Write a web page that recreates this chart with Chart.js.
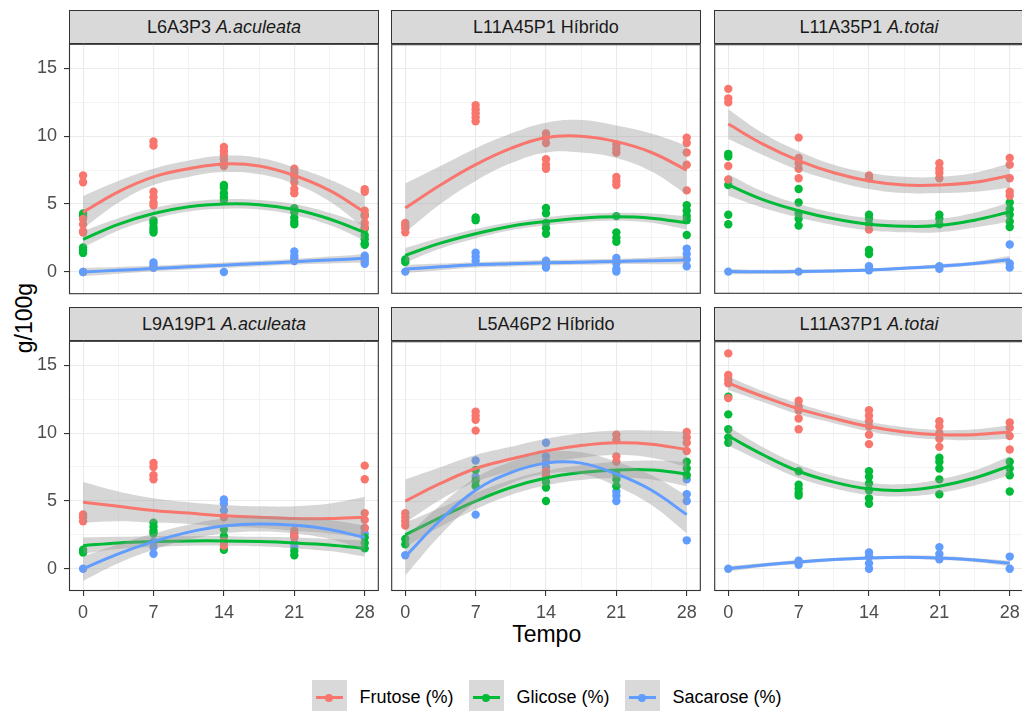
<!DOCTYPE html>
<html>
<head>
<meta charset="utf-8">
<script src="https://cdn.jsdelivr.net/npm/chart.js@4/dist/chart.umd.min.js"></script>
<style>
  body { margin: 0; width: 1022px; height: 711px; overflow: hidden; background: #fff;
         position: relative; font-family: "Liberation Sans", Arial, sans-serif; }
  canvas { position: absolute; }
  .strip { position: absolute; background: #D9D9D9; border: 1px solid #333; box-sizing: border-box;
           text-align: center; font-size: 18px; color: #1A1A1A; line-height: 32px; white-space: nowrap; }
  .title { position: absolute; font-size: 23px; color: #000; text-align: center; white-space: nowrap; }
  #legend { position: absolute; top: 680px; left: 546.5px; transform: translateX(-50%);
            display: flex; align-items: center; font-size: 18px; color: #000; white-space: nowrap; }
  .key { width: 35px; height: 35px; background: #D9D9D9; position: relative; }
  .key .ln { position: absolute; left: 4px; right: 4px; top: 16px; height: 3px; }
  .key .dot { position: absolute; left: 13.5px; top: 13.5px; width: 8px; height: 8px; border-radius: 50%; }
  .lab { margin: 0 15px 0 13px; }
  .lab:last-child { margin-right: 0; }
</style>
</head>
<body>
<div class="title" style="left:446.7px;top:620px;width:200px;line-height:28px;">Tempo</div>
<div class="title" style="left:-76px;top:303.5px;width:200px;line-height:28px;transform:rotate(-90deg);">g/100g</div>
<div id="legend"></div>

<script>
// tempo (dias) das amostras e dos pontos da curva ajustada
const days = [0, 7, 14, 21, 28];
const fitDays = [0, 3.5, 7, 10.5, 14, 17.5, 21, 24.5, 28];

const panelIds = ["L6A3P3", "L11A45P1", "L11A35P1", "L9A19P1", "L5A46P2", "L11A37P1"];
const panelGroups = ["A.aculeata", "Híbrido", "A.totai", "A.aculeata", "Híbrido", "A.totai"];
const sugarNames = ["Frutose (%)", "Glicose (%)", "Sacarose (%)"];
const sugarColors = ["#F8766D", "#00BA38", "#619CFF"];

const xTicks = [0, 7, 14, 21, 28];
const xMinor = [3.5, 10.5, 17.5, 24.5];
const yTicks = [0, 5, 10, 15];
const yMinor = [2.5, 7.5, 12.5];

// replicates per panel, per day
const frutosePts = [
  [[7.1, 6.6, 3.9, 3.5, 3.0, 2.9], [9.6, 9.3, 5.9, 5.5, 5.1, 4.9], [9.2, 8.9, 8.6, 8.3, 8.0, 7.8], [7.6, 7.3, 7.0, 6.6, 6.1, 5.8], [6.1, 5.9, 4.5, 4.1, 3.6, 3.3]],
  [[3.6, 3.4, 3.2, 2.9], [12.3, 12.0, 11.7, 11.4, 11.1], [10.2, 9.9, 9.5, 8.3, 7.9, 7.6], [9.4, 9.1, 8.8, 7.0, 6.7, 6.4], [9.9, 9.5, 8.8, 7.9, 6.0]],
  [[13.5, 12.8, 12.5, 7.8, 6.8], [9.9, 8.4, 8.0, 7.6, 6.9], [7.1, 6.9, 3.1], [8.0, 7.6, 7.3, 6.9], [8.4, 7.9, 6.9, 5.9, 5.6]],
  [[4.0, 3.8, 3.5], [7.8, 7.5, 6.9, 6.6], [3.8, 2.0, 1.7], [2.8, 2.6, 2.3], [7.6, 6.6, 4.1, 3.6, 3.0]],
  [[4.1, 3.8, 3.5, 3.2], [11.6, 11.3, 11.0, 10.2], [7.2, 6.9], [9.9, 9.5, 8.3, 7.9], [10.1, 9.7, 9.3, 8.7]],
  [[15.9, 14.3, 14.0, 13.7, 12.6], [12.4, 12.0, 11.7, 11.1, 10.3], [11.7, 11.3, 10.9, 10.5, 9.9, 9.2], [10.9, 10.5, 10.0, 9.6, 9.0], [10.8, 10.4, 9.8, 8.8]]
];
const glicosePts = [
  [[4.3, 4.1, 1.8, 1.6, 1.4], [3.8, 3.6, 3.3, 3.1, 2.9], [6.4, 6.2, 5.8, 5.5, 5.3], [4.7, 4.4, 4.0, 3.7, 3.5], [4.2, 3.2, 2.7, 2.4, 2.1, 2.0]],
  [[0.9, 0.7], [4.0, 3.8], [4.7, 4.3, 3.6, 3.2, 2.8], [4.1, 2.9, 2.5, 2.2], [4.9, 4.5, 4.1, 3.8, 2.7]],
  [[8.7, 8.5, 6.4, 4.2, 3.5], [6.1, 5.1, 4.3, 3.9, 3.4], [4.2, 3.9, 3.5, 1.6, 1.3], [4.2, 3.9, 3.5], [5.1, 4.6, 4.2, 3.7, 3.3]],
  [[1.4, 1.2], [3.4, 3.1, 2.8, 2.6], [2.9, 2.4, 2.0, 1.4], [1.3, 1.0], [2.3, 1.9, 1.5]],
  [[2.2, 1.8], [7.3, 6.5, 6.1], [6.4, 6.0, 5.0], [7.0, 6.6, 6.1], [7.9, 7.4, 6.9]],
  [[12.7, 11.4, 10.3, 9.7, 9.3], [7.2, 6.2, 5.9, 5.6, 5.4], [7.2, 6.8, 6.3, 5.8, 5.2, 4.8], [8.2, 7.9, 7.4, 6.6, 5.5], [7.9, 7.4, 6.9, 5.7]]
];
const sacarosePts = [
  [[0.0, 0.0], [0.7, 0.5, 0.3], [0.0], [1.5, 1.2, 1.0, 0.8], [1.2, 1.0, 0.8, 0.6]],
  [[0.0], [1.4, 1.1, 0.8], [0.8, 0.5, 0.3], [1.0, 0.6, 0.2, 0.0], [1.7, 1.3, 0.9, 0.4]],
  [[0.0], [0.0], [0.4, 0.1], [0.4, 0.2], [2.0, 0.6, 0.3]],
  [[0.0], [2.0, 1.6, 1.1], [5.1, 4.8, 4.3], [2.4, 1.9, 1.6], [3.0, 2.6]],
  [[1.0], [8.0, 6.8, 4.0], [9.3, 8.3, 7.9, 7.5], [5.7, 5.4, 5.0], [6.6, 5.5, 5.0, 2.1]],
  [[0.0], [0.6, 0.3], [1.2, 0.9, 0.4, 0.0], [1.6, 1.1, 0.7], [0.9, 0.0]]
];

// smooth fit (read at fitDays) and half width of the grey band
const frutoseFit = [
  [4.4, 5.9, 7.0, 7.6, 7.95, 7.8, 7.1, 6.0, 4.4],
  [4.7, 6.4, 7.9, 9.1, 9.9, 10.0, 9.6, 8.8, 7.5],
  [10.9, 9.4, 8.2, 7.3, 6.7, 6.4, 6.4, 6.6, 7.1],
  [4.9, 4.6, 4.3, 4.1, 3.9, 3.8, 3.7, 3.7, 3.8],
  [5.0, 6.3, 7.4, 8.1, 8.7, 9.1, 9.3, 9.2, 8.8],
  [13.7, 12.7, 11.8, 11.1, 10.5, 10.1, 9.9, 9.9, 10.1]
];
const frutoseSe = [
  [1.2, 0.8, 0.6, 0.6, 0.6, 0.6, 0.6, 0.8, 1.2],
  [1.8, 1.4, 1.2, 1.1, 1.1, 1.2, 1.2, 1.4, 1.8],
  [1.1, 0.8, 0.7, 0.6, 0.6, 0.6, 0.6, 0.7, 0.9],
  [1.5, 1.1, 0.9, 0.8, 0.8, 0.8, 0.9, 1.1, 1.5],
  [1.6, 1.2, 1.0, 0.9, 0.9, 0.9, 0.9, 1.0, 1.3],
  [0.5, 0.4, 0.4, 0.35, 0.35, 0.35, 0.35, 0.4, 0.5]
];
const glicoseFit = [
  [2.4, 3.5, 4.3, 4.8, 5.0, 4.95, 4.6, 3.9, 2.9],
  [1.2, 2.1, 2.8, 3.35, 3.7, 3.95, 4.05, 3.95, 3.6],
  [6.4, 5.3, 4.5, 3.9, 3.5, 3.35, 3.4, 3.8, 4.4],
  [1.7, 1.9, 2.0, 2.05, 2.05, 2.0, 1.9, 1.75, 1.5],
  [2.5, 3.8, 5.0, 6.0, 6.7, 7.1, 7.3, 7.3, 7.0],
  [9.8, 8.4, 7.2, 6.4, 5.9, 5.8, 6.1, 6.7, 7.6]
];
const glicoseSe = [
  [0.6, 0.45, 0.4, 0.35, 0.35, 0.35, 0.4, 0.45, 0.6],
  [0.55, 0.4, 0.35, 0.3, 0.3, 0.3, 0.3, 0.35, 0.5],
  [0.8, 0.6, 0.5, 0.45, 0.45, 0.45, 0.5, 0.55, 0.7],
  [0.6, 0.45, 0.4, 0.35, 0.35, 0.35, 0.4, 0.45, 0.6],
  [0.9, 0.7, 0.6, 0.55, 0.55, 0.55, 0.6, 0.7, 0.9],
  [0.7, 0.55, 0.5, 0.45, 0.45, 0.45, 0.5, 0.55, 0.7]
];
const sacaroseFit = [
  [0.0, 0.12, 0.25, 0.38, 0.5, 0.62, 0.75, 0.88, 1.0],
  [0.2, 0.35, 0.5, 0.58, 0.65, 0.7, 0.75, 0.8, 0.85],
  [0.0, -0.02, 0.0, 0.05, 0.12, 0.25, 0.4, 0.6, 0.9],
  [0.0, 1.1, 2.0, 2.7, 3.15, 3.3, 3.2, 2.9, 2.3],
  [0.9, 3.6, 5.8, 7.1, 7.8, 7.8, 7.0, 5.8, 4.0],
  [0.0, 0.28, 0.5, 0.68, 0.8, 0.85, 0.8, 0.65, 0.4]
];
const sacaroseSe = [
  [0.3, 0.25, 0.2, 0.2, 0.2, 0.2, 0.2, 0.25, 0.3],
  [0.3, 0.25, 0.2, 0.2, 0.2, 0.2, 0.2, 0.25, 0.3],
  [0.2, 0.15, 0.15, 0.12, 0.12, 0.12, 0.15, 0.15, 0.25],
  [0.9, 0.7, 0.6, 0.55, 0.55, 0.55, 0.6, 0.7, 0.9],
  [1.4, 1.1, 0.9, 0.8, 0.8, 0.8, 0.9, 1.1, 1.4],
  [0.2, 0.15, 0.15, 0.12, 0.12, 0.12, 0.15, 0.15, 0.2]
];

const allPts = [frutosePts, glicosePts, sacarosePts];
const allFit = [frutoseFit, glicoseFit, sacaroseFit];
const allSe = [frutoseSe, glicoseSe, sacaroseSe];

// layout
const colLeft = [69, 391, 714];
const rowTop = [44, 341];
const plotW = 310, plotH = 250, stripH = 34;
const FONT = "'Liberation Sans', Arial, sans-serif";

const panelBorder = {
  id: "panelBorder",
  afterDatasetsDraw(chart) {
    const a = chart.chartArea, ctx = chart.ctx;
    ctx.save();
    ctx.strokeStyle = "#333333";
    ctx.lineWidth = 1.1;
    ctx.strokeRect(a.left + 0.5, a.top + 0.5, a.right - a.left - 1, a.bottom - a.top - 1);
    ctx.restore();
  }
};

function toPoints(perDay) {
  const out = [];
  perDay.forEach((vals, i) => vals.forEach(v => out.push({ x: days[i], y: v })));
  return out;
}

function buildDatasets(p) {
  const ds = [];
  for (let s = 0; s < 3; s++) {
    ds.push({
      type: "scatter", data: toPoints(allPts[s][p]), order: 7,
      backgroundColor: sugarColors[s], borderWidth: 0, pointRadius: 4.2
    });
  }
  for (let s = 0; s < 3; s++) {
    const fit = allFit[s][p], se = allSe[s][p];
    ds.push({
      type: "line", data: fitDays.map((d, i) => ({ x: d, y: fit[i] - se[i] })),
      borderColor: "rgba(0,0,0,0)", pointRadius: 0, tension: 0.4, fill: false, order: 6 - 2 * s
    });
    ds.push({
      type: "line", data: fitDays.map((d, i) => ({ x: d, y: fit[i] + se[i] })),
      borderColor: "rgba(0,0,0,0)", pointRadius: 0, tension: 0.4,
      fill: "-1", backgroundColor: "rgba(153,153,153,0.4)", order: 6 - 2 * s
    });
    ds.push({
      type: "line", data: fitDays.map((d, i) => ({ x: d, y: fit[i] })),
      borderColor: sugarColors[s], borderWidth: 3, pointRadius: 0, tension: 0.4,
      fill: false, order: 5 - 2 * s
    });
  }
  return ds;
}

const xGrid = xTicks.concat(xMinor).sort((a, b) => a - b);
const yGrid = yTicks.concat(yMinor).sort((a, b) => a - b);

function panelConfig(p, r, c, padL, padB) {
  return {
    data: { datasets: buildDatasets(p) },
    plugins: [panelBorder],
    options: {
      responsive: false,
      animation: false,
      layout: { padding: 0 },
      plugins: { legend: { display: false }, tooltip: { enabled: false } },
      scales: {
        x: {
          type: "linear", min: -1.4, max: 29.4,
          afterBuildTicks: sc => { sc.ticks = xGrid.map(v => ({ value: v })); },
          afterFit: sc => { sc.height = padB; },
          border: { display: false },
          grid: {
            color: "#EBEBEB",
            lineWidth: ctx => (ctx.tick && xTicks.includes(ctx.tick.value)) ? 1.1 : 0.55,
            tickColor: ctx => (ctx.tick && xTicks.includes(ctx.tick.value)) ? "#333333" : "rgba(0,0,0,0)",
            drawTicks: r === 1, tickLength: 5
          },
          ticks: {
            display: r === 1, autoSkip: false, maxRotation: 0, padding: 6,
            color: "#4D4D4D", font: { family: FONT, size: 18 },
            callback: v => xTicks.includes(v) ? String(v) : ""
          }
        },
        y: {
          type: "linear", min: -1.64, max: 16.8,
          afterBuildTicks: sc => { sc.ticks = yGrid.map(v => ({ value: v })); },
          afterFit: sc => { sc.width = padL; },
          border: { display: false },
          grid: {
            color: "#EBEBEB",
            lineWidth: ctx => (ctx.tick && yTicks.includes(ctx.tick.value)) ? 1.1 : 0.55,
            tickColor: ctx => (ctx.tick && yTicks.includes(ctx.tick.value)) ? "#333333" : "rgba(0,0,0,0)",
            drawTicks: c === 0, tickLength: 5
          },
          ticks: {
            display: c === 0, autoSkip: false, padding: 7,
            color: "#4D4D4D", font: { family: FONT, size: 18 },
            callback: v => yTicks.includes(v) ? String(v) : ""
          }
        }
      }
    }
  };
}

for (let p = 0; p < 6; p++) {
  const r = Math.floor(p / 3), c = p % 3;
  const padL = c === 0 ? 69 : 0;
  const padB = r === 1 ? 50 : 0;

  const strip = document.createElement("div");
  strip.className = "strip";
  strip.style.left = colLeft[c] + "px";
  strip.style.top = (rowTop[r] - stripH) + "px";
  strip.style.width = plotW + "px";
  strip.style.height = stripH + "px";
  const grp = panelGroups[p] === "Híbrido" ? panelGroups[p] : "<i>" + panelGroups[p] + "</i>";
  strip.innerHTML = panelIds[p] + " " + grp;
  document.body.appendChild(strip);

  // first pass: measure the chart area, then resize the canvas so the plot lands on its panel
  const probe = document.createElement("canvas");
  probe.width = plotW + padL + 60;
  probe.height = plotH + padB + 60;
  probe.style.visibility = "hidden";
  document.body.appendChild(probe);
  const tmp = new Chart(probe.getContext("2d"), panelConfig(p, r, c, padL, padB));
  const a = tmp.chartArea;
  const w = Math.round(probe.width + plotW - (a.right - a.left));
  const h = Math.round(probe.height + plotH - (a.bottom - a.top));
  const offL = Math.round(a.left), offT = Math.round(a.top);
  tmp.destroy();
  probe.remove();

  const cv = document.createElement("canvas");
  cv.width = w;
  cv.height = h;
  cv.style.left = (colLeft[c] - offL) + "px";
  cv.style.top = (rowTop[r] - offT) + "px";
  document.body.appendChild(cv);
  new Chart(cv.getContext("2d"), panelConfig(p, r, c, padL, padB));
}

// legend
const legend = document.getElementById("legend");
sugarNames.forEach((name, s) => {
  const key = document.createElement("div");
  key.className = "key";
  key.innerHTML = '<div class="ln" style="background:' + sugarColors[s] + '"></div>' +
                  '<div class="dot" style="background:' + sugarColors[s] + '"></div>';
  const lab = document.createElement("span");
  lab.className = "lab";
  lab.textContent = name;
  legend.appendChild(key);
  legend.appendChild(lab);
});
</script>
</body>
</html>
